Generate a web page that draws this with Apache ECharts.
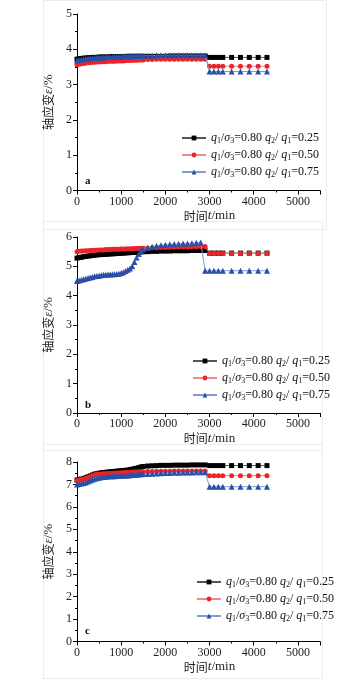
<!DOCTYPE html>
<html><head><meta charset="utf-8">
<script src="https://cdn.jsdelivr.net/npm/echarts@6/dist/echarts.min.js"></script>
<style>html,body{margin:0;padding:0;background:#fff}#c{width:360px;height:682px}</style>
</head><body><div id="c"></div>
<script>
const times = [0,50,100,150,200,250,300,350,400,450,500,550,600,650,700,750,800,850,900,950,1000,1050,1100,1150,1200,1250,1300,1350,1400,1450,1500,
 1600,1700,1800,1900,2000,2100,2200,2300,2400,2500,2600,2700,2800,2900,
 3000,3100,3200,3300,3500,3700,3900,4100,4300];
const ratios = ['0.25','0.50','0.75'];
const panelLabels = ['a','b','c'];
const yMax = [5, 6, 8];
const xTicks = [0,1000,2000,3000,4000,5000];

const aBlack = [3.72,3.73,3.74,3.75,3.75,3.76,3.76,3.77,3.77,3.77,3.78,3.78,3.78,3.78,3.78,3.79,3.79,3.79,3.79,3.79,3.79,3.79,3.79,3.80,3.80,3.80,3.80,3.80,3.80,3.80,3.80,
 3.80,3.80,3.80,3.80,3.80,3.81,3.81,3.81,3.81,3.81,3.81,3.81,3.81,3.81,
 3.77,3.77,3.77,3.77,3.77,3.77,3.77,3.77,3.77];
const aRed = [3.56,3.58,3.59,3.60,3.61,3.62,3.62,3.63,3.63,3.64,3.64,3.65,3.65,3.65,3.66,3.66,3.66,3.66,3.67,3.67,3.67,3.67,3.68,3.68,3.68,3.69,3.69,3.69,3.70,3.70,3.70,
 3.71,3.71,3.72,3.72,3.72,3.72,3.72,3.72,3.72,3.72,3.72,3.72,3.72,3.72,
 3.52,3.52,3.52,3.52,3.52,3.52,3.52,3.52,3.52];
const aBlue = [3.68,3.70,3.71,3.72,3.73,3.74,3.75,3.75,3.76,3.76,3.77,3.77,3.77,3.78,3.78,3.78,3.78,3.79,3.79,3.79,3.79,3.80,3.80,3.80,3.80,3.81,3.81,3.81,3.81,3.82,3.82,
 3.82,3.82,3.83,3.83,3.83,3.83,3.83,3.83,3.83,3.83,3.83,3.83,3.83,3.83,
 3.37,3.37,3.37,3.37,3.37,3.37,3.37,3.37,3.37];

const bBlack = [5.28,5.30,5.31,5.33,5.34,5.35,5.36,5.37,5.38,5.39,5.40,5.40,5.41,5.41,5.42,5.42,5.43,5.43,5.44,5.44,5.45,5.45,5.46,5.46,5.47,5.47,5.48,5.48,5.49,5.49,5.50,
 5.50,5.51,5.51,5.52,5.52,5.52,5.53,5.53,5.53,5.53,5.54,5.54,5.54,5.54,
 5.45,5.45,5.45,5.45,5.45,5.45,5.45,5.45,5.45];
const bRed = [5.50,5.51,5.52,5.52,5.53,5.53,5.54,5.54,5.55,5.55,5.56,5.56,5.56,5.57,5.57,5.57,5.58,5.58,5.58,5.58,5.59,5.59,5.59,5.60,5.60,5.60,5.61,5.61,5.61,5.62,5.62,
 5.62,5.63,5.63,5.64,5.64,5.65,5.65,5.66,5.66,5.66,5.67,5.67,5.68,5.68,
 5.45,5.45,5.45,5.45,5.45,5.45,5.45,5.45,5.45];
const bBlue = [4.50,4.52,4.54,4.56,4.58,4.60,4.62,4.64,4.66,4.67,4.68,4.70,4.71,4.71,4.72,4.72,4.73,4.73,4.74,4.75,4.77,4.80,4.84,4.88,4.93,5.00,5.15,5.30,5.42,5.52,5.58,
 5.63,5.67,5.70,5.72,5.74,5.75,5.76,5.77,5.78,5.78,5.79,5.80,5.81,4.85,
 4.85,4.85,4.85,4.85,4.85,4.85,4.85,4.85,4.85];

const cBlack = [7.20,7.22,7.24,7.26,7.30,7.34,7.38,7.42,7.46,7.48,7.50,7.52,7.53,7.54,7.55,7.56,7.57,7.58,7.59,7.60,7.61,7.62,7.63,7.64,7.66,7.68,7.70,7.72,7.75,7.78,7.80,
 7.82,7.83,7.84,7.85,7.85,7.85,7.86,7.86,7.86,7.86,7.87,7.87,7.87,7.87,
 7.84,7.84,7.84,7.84,7.84,7.84,7.84,7.84,7.84];
const cRed = [7.18,7.20,7.22,7.24,7.27,7.31,7.35,7.39,7.43,7.45,7.46,7.47,7.48,7.48,7.49,7.49,7.50,7.50,7.51,7.51,7.52,7.52,7.53,7.53,7.54,7.54,7.55,7.55,7.56,7.56,7.57,
 7.58,7.58,7.59,7.59,7.59,7.59,7.60,7.60,7.60,7.60,7.60,7.60,7.60,7.60,
 7.39,7.39,7.39,7.39,7.39,7.39,7.39,7.39,7.39];
const cBlue = [7.00,7.02,7.04,7.06,7.09,7.13,7.17,7.21,7.25,7.28,7.30,7.32,7.33,7.34,7.35,7.36,7.37,7.37,7.38,7.38,7.39,7.39,7.40,7.40,7.41,7.42,7.42,7.43,7.44,7.45,7.46,
 7.47,7.48,7.49,7.50,7.51,7.51,7.52,7.52,7.53,7.53,7.53,7.54,7.54,7.54,
 6.90,6.90,6.90,6.90,6.90,6.90,6.90,6.90,6.90];

const panelData = [[aBlack,aRed,aBlue],[bBlack,bRed,bBlue],[cBlack,cRed,cBlue]];

const serif = '"Liberation Serif","DejaVu Serif",serif';
const cjk = '"Noto Sans CJK SC",' + serif;
const grids = [
  {left:77, top:14, width:243, height:176.5},
  {left:77, top:237, width:243, height:176},
  {left:77, top:462, width:243, height:179.5}
];
const legendTops = [127, 350, 571];
const legendLefts = [176, 187, 191];
const colors = ['#000000','#e8262a','#2a4fa8'];
const lineColors = ['#555555','#f08a8a','#7f9ad6'];
const symbols = ['rect','circle','triangle'];

const nameRich = {
  c:{fontFamily:cjk, fontSize:12, color:'#222'},
  i:{fontFamily:serif, fontStyle:'italic', fontSize:13, color:'#222'},
  n:{fontFamily:serif, fontSize:13, color:'#222'}
};

const chart = echarts.init(document.getElementById('c'));
const option = {
  backgroundColor:'#fff', animation:false,
  grid: grids,
  xAxis: grids.map((g,i)=>({
    type:'value', gridIndex:i, min:0, max:5500, interval:1000,
    name:'{c|时间}{i|t}{n|/min}', nameLocation:'middle', nameGap:19,
    nameTextStyle:{padding:[0,0,0,22], rich:nameRich},
    axisLine:{show:true, onZero:false, lineStyle:{color:'#000', width:1}},
    axisTick:{show:true, length:4, lineStyle:{color:'#000'}},
    minorTick:{show:true, splitNumber:2, length:2, lineStyle:{color:'#000'}},
    splitLine:{show:false},
    axisLabel:{fontFamily:serif, fontSize:12, color:'#222', margin:5,
      formatter:v=> xTicks.indexOf(v)>=0 ? String(v) : ''}
  })),
  yAxis: grids.map((g,i)=>({
    type:'value', gridIndex:i, min:0, max:yMax[i], interval:1,
    name:'{c|轴应变}{i|ε}{n|/%}', nameLocation:'middle', nameGap:14, nameRotate:90,
    nameTextStyle:{rich:nameRich},
    axisLine:{show:true, lineStyle:{color:'#000', width:1}},
    axisTick:{show:true, length:4, lineStyle:{color:'#000'}},
    minorTick:{show:true, splitNumber:2, length:2, lineStyle:{color:'#000'}},
    splitLine:{show:false},
    axisLabel:{fontFamily:serif, fontSize:12, color:'#222', margin:5}
  })),
  legend: [0,1,2].map(p=>({
    orient:'vertical', left:legendLefts[p], top:legendTops[p], itemGap:4,
    itemWidth:24, itemHeight:6,
    data: ratios.map((r,k)=>panelLabels[p]+k),
    formatter: name => {
      const r = ratios[+name.slice(1)];
      return '{i|q}{s|1}{n|/}{i|σ}{s|3}{n|=0.80 }{i|q}{s|2}{n|/ }{i|q}{s|1}{n|=' + r + '}';
    },
    textStyle:{fontFamily:serif, fontSize:12, color:'#111',
      rich:{
        i:{fontFamily:serif, fontStyle:'italic', fontSize:12, color:'#111', lineHeight:14},
        n:{fontFamily:serif, fontSize:12, color:'#111', lineHeight:14},
        s:{fontFamily:serif, fontSize:8, color:'#111', verticalAlign:'bottom', lineHeight:10, padding:[4,0,0,0]}
      }}
  })),
  graphic: [
    ...[0,1,2].map(p=>({type:'rect', shape:{x:43.5,y:[0.5,221.5,444.5][p],width:[283,279,279][p],height:[229,229,234][p]},
      style:{fill:'none', stroke:'#ececec', lineWidth:1}, silent:true, z:-1})),
    ...[0,1,2].map(p=>({type:'text', left:85, top:[176,400,626][p],
      style:{text:panelLabels[p], font:'bold 11px '+serif, fill:'#111'}}))
  ],
  series: []
};
for (let p=0;p<3;p++){
  for (let k=0;k<3;k++){
    option.series.push({
      name: panelLabels[p]+k, type:'line', xAxisIndex:p, yAxisIndex:p,
      data: times.map((t,j)=>[t, panelData[p][k][j]]),
      symbol: symbols[k], symbolSize: k===2?6:5, showAllSymbol:true,
      itemStyle:{color:colors[k]},
      lineStyle:{color:lineColors[k], width:1},
      z: 2+k
    });
  }
}
chart.setOption(option);
</script>
</body></html>
